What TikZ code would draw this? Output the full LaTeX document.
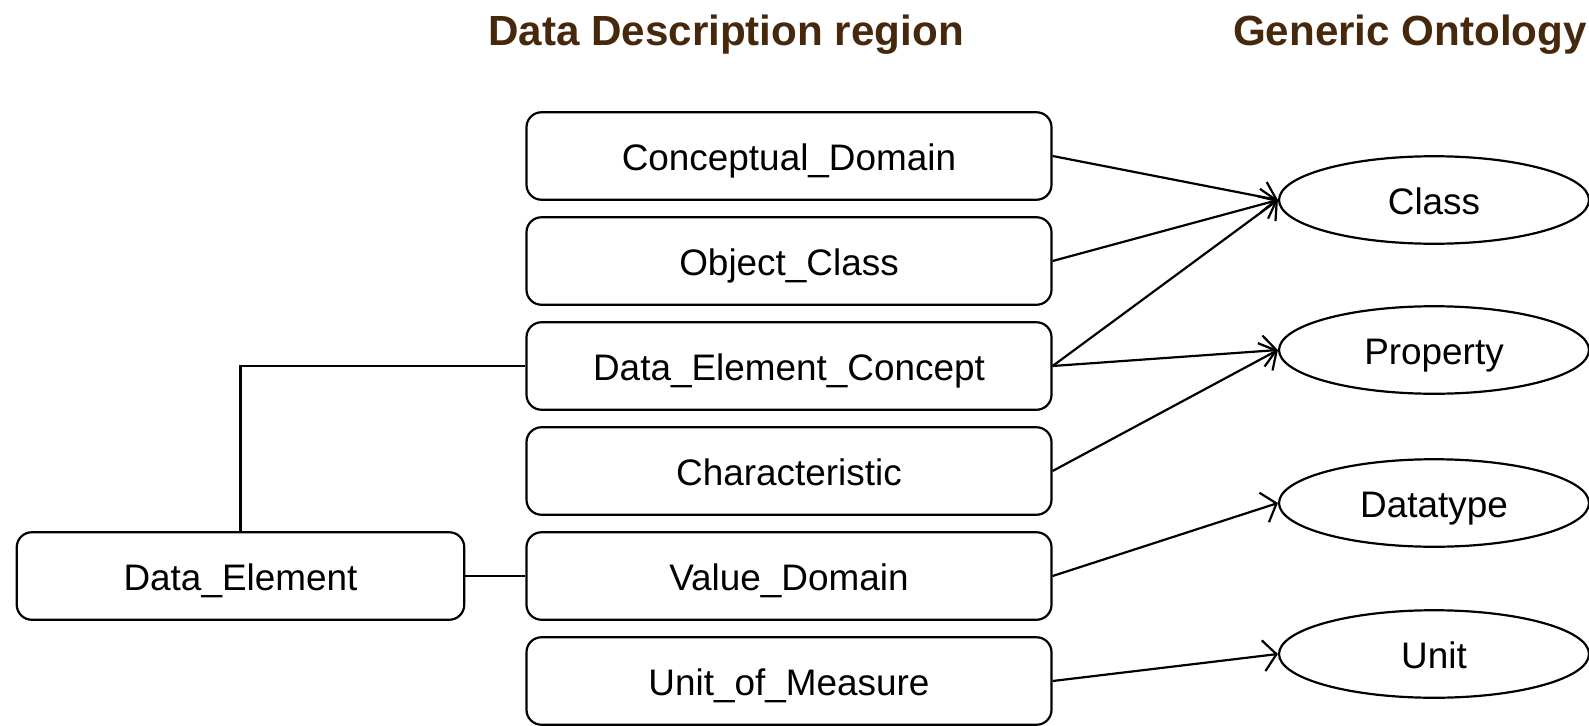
\documentclass[tikz,border=0pt]{standalone}
\usepackage{fontspec}
\setmainfont{Liberation Sans}
\usetikzlibrary{shapes.geometric,arrows.meta}
\definecolor{titlebrown}{RGB}{70,41,13}

\begin{document}
\begin{tikzpicture}[line width=1.25pt]

      \useasboundingbox (0,0) rectangle (31.78,-14.52);

      \node[text=titlebrown, font=\fontsize{24}{28}\selectfont\bfseries] (t1) at (14.52,-0.7) {Data Description region};
      \node[text=titlebrown, font=\fontsize{24}{28}\selectfont\bfseries] (t2) at (28.2,-0.7) {Generic Ontology};

      \begin{scope}[every node/.style={draw, rounded corners=0.3cm, minimum width=10.5cm, minimum height=1.75cm, text height=16pt, text depth=0pt, font=\fontsize{21}{25}\selectfont}]
        \node (cd)  at (15.78,-3.12)  {Conceptual\_Domain};
        \node (oc)  at (15.78,-5.22)  {Object\_Class};
        \node (dec) at (15.78,-7.32)  {Data\_Element\_Concept};
        \node (ch)  at (15.78,-9.42)  {Characteristic};
        \node (vd)  at (15.78,-11.52) {Value\_Domain};
        \node (um)  at (15.78,-13.62) {Unit\_of\_Measure};
        \node[minimum width=8.95cm] (de) at (4.81,-11.52) {Data\_Element};
      \end{scope}

      \begin{scope}[every node/.style={draw, ellipse, minimum width=6.2cm, minimum height=1.75cm, text height=16pt, text depth=0pt, font=\fontsize{21}{25}\selectfont}]
        \node (cls)  at (28.68,-4.0)   {Class};
        \node (prop) at (28.68,-7.0)   {Property};
        \node (dt)   at (28.68,-10.06) {Datatype};
        \node (unit) at (28.68,-13.08) {Unit};
      \end{scope}

      \draw (de.north) |- (dec.west);
      \draw (de.east) -- (vd.west);

      \begin{scope}[every edge/.style={draw, -{Straight Barb[length=0.26cm, width=0.62cm]}}]
        \path (cd.east)  edge (cls.west);
        \path (oc.east)  edge (cls.west);
        \path (dec.east) edge (cls.west);
        \path (dec.east) edge (prop.west);
        \path (ch.east)  edge (prop.west);
        \path (vd.east)  edge (dt.west);
        \path (um.east)  edge (unit.west);
      \end{scope}

    \end{tikzpicture}
\end{document}
